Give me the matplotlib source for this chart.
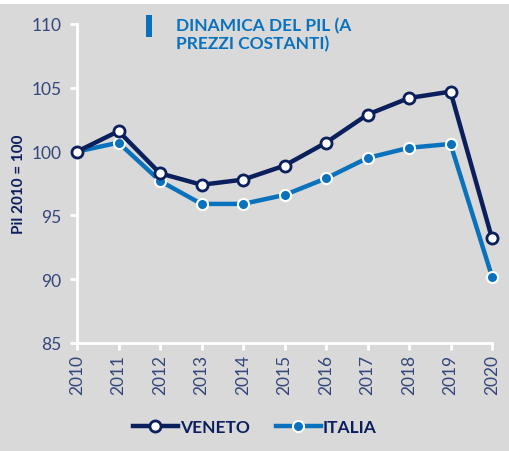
import matplotlib.pyplot as plt
from matplotlib.patches import Rectangle

years = [2010, 2011, 2012, 2013, 2014, 2015, 2016, 2017, 2018, 2019, 2020]
veneto = [100.0, 101.6, 98.3, 97.4, 97.8, 98.9, 100.7, 102.9, 104.2, 104.7, 93.2]
italia = [100.0, 100.7, 97.7, 95.9, 95.9, 96.6, 97.9, 99.5, 100.3, 100.6, 90.2]

NAVY = "#0b1f5c"
BLUE = "#0a72bd"
TICK = "#34477a"
BG = "#d9d9d9"

plt.rcParams["font.family"] = ["Lato", "DejaVu Sans"]

fig = plt.figure(figsize=(5.09, 4.52), dpi=100, facecolor="white")
fig.patches.append(Rectangle((0, 0), 1, 1 - 5 / 452, transform=fig.transFigure,
                             facecolor=BG, edgecolor="none", zorder=-10))
ax = fig.add_axes([77 / 509, 108 / 452, 415 / 509, 319 / 452])
ax.set_facecolor("none")

ax.plot(years, veneto, color=NAVY, lw=3.2, marker="o", ms=8,
        mfc="white", mec=NAVY, mew=2, label="VENETO", zorder=3, clip_on=False)
ax.plot(years, italia, color=BLUE, lw=3.2, marker="o", ms=8,
        mfc=BLUE, mec="white", mew=1.5, label="ITALIA", zorder=2, clip_on=False)

ax.set_xlim(2010, 2020)
ax.set_ylim(85, 110)
ax.set_yticks([85, 90, 95, 100, 105, 110])
ax.set_xticks(years)
ax.set_xticklabels([str(y) for y in years], rotation=90)

for s in ["top", "right"]:
    ax.spines[s].set_visible(False)
for s in ["left", "bottom"]:
    ax.spines[s].set_color("white")
    ax.spines[s].set_linewidth(2)
ax.tick_params(axis="both", colors="white", width=2, length=5,
               labelcolor=TICK, labelsize=12.5)
ax.tick_params(axis="y", pad=6)
ax.tick_params(axis="x", pad=3)

ax.set_ylabel("Pil 2010 = 100", color=NAVY, fontsize=11, fontweight="bold",
              labelpad=4)

fig.text(176 / 509, 1 - 18 / 452, "DINAMICA DEL PIL (A\nPREZZI COSTANTI)",
         color=BLUE, fontsize=12.5, fontweight="bold", va="top", ha="left",
         linespacing=1.1)
fig.patches.append(Rectangle((146 / 509, 1 - 38 / 452), 6 / 509, 22 / 452,
                             transform=fig.transFigure, facecolor=BLUE,
                             edgecolor="none"))

leg = fig.legend(loc="center", bbox_to_anchor=(0.5, 1 - 428 / 452), ncol=2,
                 frameon=False, fontsize=12.5, handlelength=2.6,
                 columnspacing=1.5, handletextpad=0.1)
for t in leg.get_texts():
    t.set_color(NAVY)
    t.set_fontweight("bold")

fig.savefig("out.png", dpi=100, facecolor=fig.get_facecolor())
